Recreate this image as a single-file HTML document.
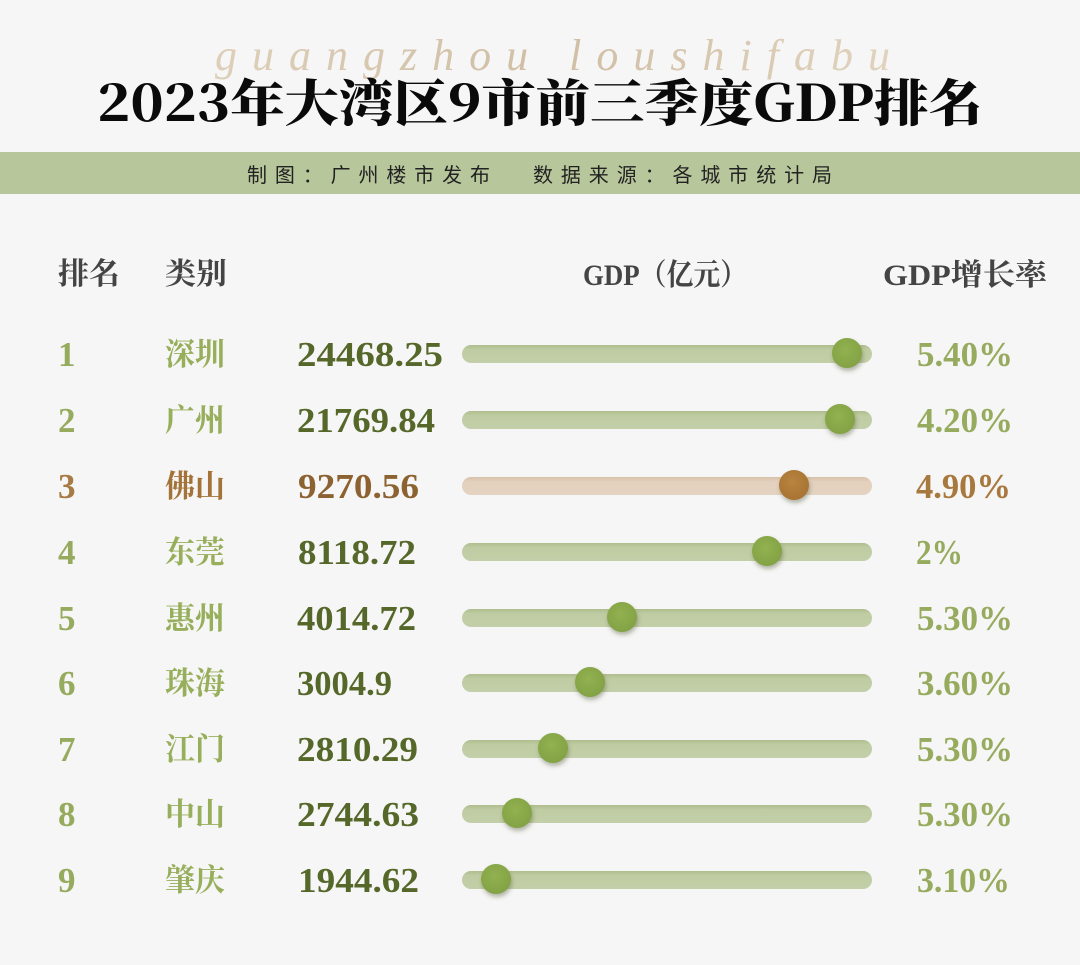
<!DOCTYPE html>
<html>
<head>
<meta charset="utf-8">
<style>
  html,body{margin:0;padding:0;background:#f6f6f6;}
  svg{display:block;}
  .serif{font-family:"Liberation Serif","Noto Serif CJK SC",serif;}
  .cjkserif{font-family:"Noto Serif CJK SC","Liberation Serif",serif;font-weight:700;}
  .num{font-family:"Liberation Serif","Noto Serif CJK SC",serif;font-weight:700;}
  .sans{font-family:"Liberation Sans","Noto Sans CJK SC",sans-serif;}
</style>
</head>
<body>
<svg width="1080" height="965" viewBox="0 0 1080 965" xmlns="http://www.w3.org/2000/svg">
  <defs>
    <linearGradient id="wm" x1="0" y1="0" x2="1" y2="0">
      <stop offset="0" stop-color="#cdb690"/>
      <stop offset="0.5" stop-color="#b89a70"/>
      <stop offset="1" stop-color="#d2bc98"/>
    </linearGradient>
    <linearGradient id="trG" x1="0" y1="0" x2="0" y2="1">
      <stop offset="0" stop-color="#aebd8d"/>
      <stop offset="0.25" stop-color="#bfcca3"/>
      <stop offset="1" stop-color="#c3cfa8"/>
    </linearGradient>
    <linearGradient id="trB" x1="0" y1="0" x2="0" y2="1">
      <stop offset="0" stop-color="#d8c1a8"/>
      <stop offset="0.25" stop-color="#e3d0bd"/>
      <stop offset="1" stop-color="#e5d3c1"/>
    </linearGradient>
    <radialGradient id="knG" cx="0.45" cy="0.4" r="0.6">
      <stop offset="0" stop-color="#92b151"/>
      <stop offset="1" stop-color="#82a244"/>
    </radialGradient>
    <radialGradient id="knB" cx="0.45" cy="0.4" r="0.6">
      <stop offset="0" stop-color="#b8843f"/>
      <stop offset="1" stop-color="#a87333"/>
    </radialGradient>
    <filter id="sh" x="-50%" y="-50%" width="200%" height="200%">
      <feDropShadow dx="1" dy="3" stdDeviation="2" flood-color="#4a5530" flood-opacity="0.4"/>
    </filter>
  </defs>

  <rect x="0" y="0" width="1080" height="965" fill="#f6f6f6"/>

  <!-- watermark -->
  <text x="215" y="70" font-size="44" font-style="italic" class="serif" fill="url(#wm)" opacity="0.6" textLength="675" lengthAdjust="spacing">guangzhou loushifabu</text>

  <!-- title -->
  <text x="97" y="121" font-size="50" class="cjkserif" style="font-weight:900" fill="#0a0a0a" textLength="886" lengthAdjust="spacingAndGlyphs">2023年大湾区9市前三季度GDP排名</text>

  <!-- band -->
  <rect x="0" y="152" width="1080" height="42" fill="#b8c79b"/>
  <text x="247" y="182" font-size="20" class="sans" fill="#222" textLength="243" lengthAdjust="spacing">制图：广州楼市发布</text>
  <text x="533" y="182" font-size="20" class="sans" fill="#222" textLength="299" lengthAdjust="spacing">数据来源：各城市统计局</text>

  <!-- headers -->
  <g class="num" font-size="30" fill="#444">
    <text x="58" y="284" textLength="62" lengthAdjust="spacingAndGlyphs" class="cjkserif">排名</text>
    <text x="165" y="284" textLength="62" lengthAdjust="spacingAndGlyphs" class="cjkserif">类别</text>
    <text x="583" y="285" textLength="164" lengthAdjust="spacingAndGlyphs">GDP（亿元）</text>
    <text x="883" y="285" textLength="164" lengthAdjust="spacingAndGlyphs">GDP增长率</text>
  </g>

  <!-- tracks -->
  <g>
    <rect x="462" y="345" width="410" height="18" rx="9" fill="url(#trG)"/>
    <rect x="462" y="411" width="410" height="18" rx="9" fill="url(#trG)"/>
    <rect x="462" y="477" width="410" height="18" rx="9" fill="url(#trB)"/>
    <rect x="462" y="543" width="410" height="18" rx="9" fill="url(#trG)"/>
    <rect x="462" y="609" width="410" height="18" rx="9" fill="url(#trG)"/>
    <rect x="462" y="674" width="410" height="18" rx="9" fill="url(#trG)"/>
    <rect x="462" y="740" width="410" height="18" rx="9" fill="url(#trG)"/>
    <rect x="462" y="805" width="410" height="18" rx="9" fill="url(#trG)"/>
    <rect x="462" y="871" width="410" height="18" rx="9" fill="url(#trG)"/>
  </g>

  <!-- knobs -->
  <g filter="url(#sh)">
    <circle cx="847" cy="353" r="15" fill="url(#knG)"/>
    <circle cx="840" cy="419" r="15" fill="url(#knG)"/>
    <circle cx="794" cy="485" r="15" fill="url(#knB)"/>
    <circle cx="767" cy="551" r="15" fill="url(#knG)"/>
    <circle cx="622" cy="617" r="15" fill="url(#knG)"/>
    <circle cx="590" cy="682" r="15" fill="url(#knG)"/>
    <circle cx="553" cy="748" r="15" fill="url(#knG)"/>
    <circle cx="517" cy="813" r="15" fill="url(#knG)"/>
    <circle cx="496" cy="879" r="15" fill="url(#knG)"/>
  </g>

  <!-- ranks -->
  <g class="num" font-size="35" fill="#97ab5e">
    <text x="58" y="366">1</text>
    <text x="58" y="432">2</text>
    <text x="58" y="498" fill="#a87b44">3</text>
    <text x="58" y="564">4</text>
    <text x="58" y="630">5</text>
    <text x="58" y="695">6</text>
    <text x="58" y="761">7</text>
    <text x="58" y="826">8</text>
    <text x="58" y="892">9</text>
  </g>

  <!-- cities -->
  <g class="cjkserif" font-size="31" fill="#97ae5b">
    <text x="165" y="365" textLength="60" lengthAdjust="spacingAndGlyphs">深圳</text>
    <text x="165" y="431" textLength="60" lengthAdjust="spacingAndGlyphs">广州</text>
    <text x="165" y="497" textLength="60" lengthAdjust="spacingAndGlyphs" fill="#a3733a">佛山</text>
    <text x="165" y="563" textLength="60" lengthAdjust="spacingAndGlyphs">东莞</text>
    <text x="165" y="629" textLength="60" lengthAdjust="spacingAndGlyphs">惠州</text>
    <text x="165" y="694" textLength="60" lengthAdjust="spacingAndGlyphs">珠海</text>
    <text x="165" y="760" textLength="60" lengthAdjust="spacingAndGlyphs">江门</text>
    <text x="165" y="825" textLength="60" lengthAdjust="spacingAndGlyphs">中山</text>
    <text x="165" y="891" textLength="60" lengthAdjust="spacingAndGlyphs">肇庆</text>
  </g>

  <!-- values -->
  <g class="num" font-size="35" fill="#55682a">
    <text x="297" y="366" textLength="146" lengthAdjust="spacingAndGlyphs">24468.25</text>
    <text x="297" y="432" textLength="138" lengthAdjust="spacingAndGlyphs">21769.84</text>
    <text x="298" y="498" textLength="121" lengthAdjust="spacingAndGlyphs" fill="#8d6231">9270.56</text>
    <text x="298" y="564" textLength="118" lengthAdjust="spacingAndGlyphs">8118.72</text>
    <text x="297" y="630" textLength="119" lengthAdjust="spacingAndGlyphs">4014.72</text>
    <text x="297" y="695" textLength="95" lengthAdjust="spacingAndGlyphs">3004.9</text>
    <text x="297" y="761" textLength="121" lengthAdjust="spacingAndGlyphs">2810.29</text>
    <text x="297" y="826" textLength="122" lengthAdjust="spacingAndGlyphs">2744.63</text>
    <text x="298" y="892" textLength="121" lengthAdjust="spacingAndGlyphs">1944.62</text>
  </g>

  <!-- growth -->
  <g class="num" font-size="35" fill="#97ab5e">
    <text x="917" y="366" textLength="96" lengthAdjust="spacingAndGlyphs">5.40%</text>
    <text x="917" y="432" textLength="96" lengthAdjust="spacingAndGlyphs">4.20%</text>
    <text x="916" y="498" textLength="95" lengthAdjust="spacingAndGlyphs" fill="#a8793f">4.90%</text>
    <text x="916" y="564" textLength="47" lengthAdjust="spacingAndGlyphs">2%</text>
    <text x="917" y="630" textLength="96" lengthAdjust="spacingAndGlyphs">5.30%</text>
    <text x="917" y="695" textLength="96" lengthAdjust="spacingAndGlyphs">3.60%</text>
    <text x="917" y="761" textLength="96" lengthAdjust="spacingAndGlyphs">5.30%</text>
    <text x="917" y="826" textLength="96" lengthAdjust="spacingAndGlyphs">5.30%</text>
    <text x="917" y="892" textLength="93" lengthAdjust="spacingAndGlyphs">3.10%</text>
  </g>
</svg>
</body>
</html>
